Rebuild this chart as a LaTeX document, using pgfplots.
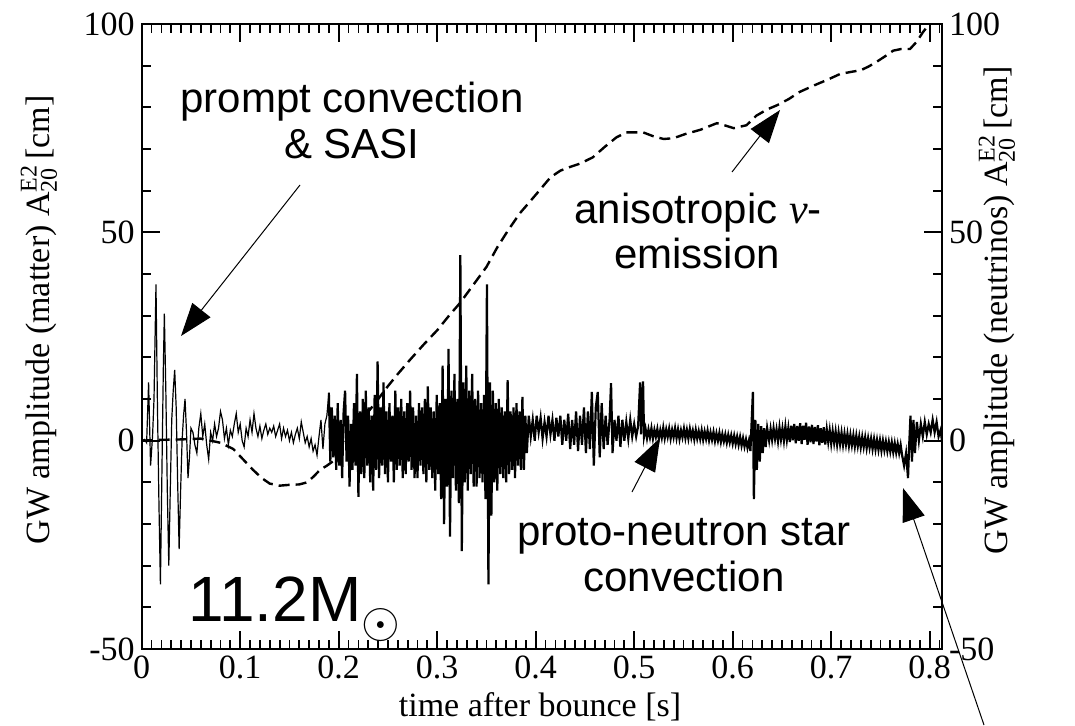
\documentclass[border=0pt]{standalone}
\usepackage{fontspec}
\setmainfont{Liberation Serif}
\newfontfamily\arialfont{Liberation Sans}
\usepackage{pgfplots}
\pgfplotsset{compat=1.18}
\usetikzlibrary{arrows.meta}
\newcommand{\Atwo}{A\rlap{\raisebox{0.8ex}{\fontsize{12}{12}\selectfont E2}}\raisebox{-0.5ex}{\fontsize{12}{12}\selectfont 20}}
\begin{document}
\begin{tikzpicture}
\useasboundingbox (0,0) rectangle (537.5pt,362.5pt);
\begin{axis}[
  at={(70.85pt,38pt)}, anchor=south west,
  width=400.15pt, height=312.5pt, scale only axis,
  xmin=0, xmax=0.8125, ymin=-50, ymax=100,
  xtick={0,0.1,0.2,0.3,0.4,0.5,0.6,0.7,0.8},
  ytick={-50,0,50,100},
  extra x ticks={0.01,0.02,0.03,0.04,0.05,0.06,0.07,0.08,0.09,0.11,0.12,0.13,0.14,0.15,0.16,0.17,0.18,0.19,0.21,0.22,0.23,0.24,0.25,0.26,0.27,0.28,0.29,0.31,0.32,0.33,0.34,0.35,0.36,0.37,0.38,0.39,0.41,0.42,0.43,0.44,0.45,0.46,0.47,0.48,0.49,0.51,0.52,0.53,0.54,0.55,0.56,0.57,0.58,0.59,0.61,0.62,0.63,0.64,0.65,0.66,0.67,0.68,0.69,0.71,0.72,0.73,0.74,0.75,0.76,0.77,0.78,0.79,0.81},
  extra x tick labels={},
  extra x tick style={major tick length=4.5pt},
  extra y ticks={-40,-30,-20,-10,10,20,30,40,60,70,80,90},
  extra y tick labels={},
  extra y tick style={major tick length=4.5pt},
  tick align=inside,
  major tick length=9pt,
  axis line style={line width=0.9pt},
  tick style={line width=0.9pt, black},
  tick label style={font=\fontsize{17}{17}\selectfont},
  /pgf/number format/assume math mode=true,
  /pgf/number format/fixed,
]
% matter signal, early part
\addplot[black, line width=0.6pt] coordinates {
(0,0) (0.003,0.3) (0.005,-0.5) (0.007,14) (0.009,-6) (0.011,1) (0.0125,10) (0.0145,37.5) (0.016,8) (0.0175,-15) (0.019,-34.5) (0.0205,-8) (0.022,18) (0.023,30.5) (0.0245,12) (0.026,-12) (0.0275,-30) (0.029,-12) (0.0305,5) (0.032,12) (0.0335,17) (0.035,8) (0.0365,-10) (0.038,-26) (0.0395,-12) (0.041,0) (0.0425,6) (0.044,10) (0.0455,2) (0.047,-9) (0.0485,-4) (0.05,3)
(0.052,2) (0.054,-1) (0.056,-3) (0.058,3) (0.060,6.5) (0.062,1) (0.064,4) (0.066,-1) (0.068,-4.5) (0.070,2) (0.072,0) (0.074,4) (0.076,1) (0.078,3) (0.080,7) (0.082,5) (0.084,0.5) (0.086,3) (0.088,-1) (0.090,2.5) (0.092,1) (0.094,4) (0.096,6.5) (0.098,2) (0.100,4) (0.102,0) (0.104,-1.5) (0.106,3) (0.108,1) (0.110,5) (0.112,2) (0.114,6.5) (0.116,3) (0.118,1) (0.120,3.5) (0.122,0.5) (0.124,2.5) (0.126,4) (0.128,1.5) (0.130,3) (0.132,2) (0.134,3.5) (0.136,1) (0.138,2.5) (0.140,4) (0.142,0.5) (0.144,3) (0.146,1) (0.148,2.5) (0.150,0) (0.152,2) (0.154,-0.5) (0.156,1.5) (0.158,3) (0.160,0.5) (0.162,4.5) (0.164,2) (0.166,-0.5) (0.168,1) (0.170,-1.5) (0.172,0.5) (0.174,-2.5) (0.176,-1) (0.178,-3.5) (0.180,1) (0.182,5) (0.184,-2) (0.186,4) (0.188,6) (0.190,11.5)
};
% matter signal, dense part
\addplot[black, line width=1.1pt] coordinates {
(0.190,11.5) (0.1915,-5) (0.193,8) (0.1945,-4) (0.196,6) (0.1975,-7) (0.199,9) (0.2005,-6) (0.202,5) (0.2035,-9) (0.205,7) (0.2065,12) (0.208,-5) (0.2095,6) (0.211,-11) (0.2125,4) (0.214,-7) (0.2155,9) (0.217,-6) (0.2185,16) (0.220,-13.5) (0.2215,7) (0.223,-8) (0.2245,10) (0.226,-9) (0.2275,12) (0.229,-6) (0.2305,8) (0.232,-10) (0.2335,6) (0.235,-12) (0.2365,11) (0.238,-7) (0.2395,19) (0.241,-9) (0.2425,8) (0.244,-6) (0.2455,14) (0.247,-8) (0.2485,7) (0.250,-10) (0.2515,9) (0.253,-5) (0.2545,6) (0.256,-10) (0.2575,12) (0.259,-7) (0.2605,8) (0.262,-6) (0.2635,10) (0.265,-9) (0.2665,7) (0.268,-8) (0.2695,9) (0.271,-5) (0.2725,12) (0.274,-7) (0.2755,8) (0.277,-9) (0.2785,6) (0.280,-9) (0.2815,9) (0.283,-6) (0.2845,8) (0.286,-8) (0.2875,10) (0.289,-10) (0.2905,13) (0.292,-7) (0.2935,8) (0.295,-9) (0.2965,7) (0.298,-12) (0.2995,11) (0.301,-8) (0.3025,9) (0.304,-14) (0.3055,18) (0.307,-20) (0.3085,10) (0.310,-11) (0.3115,22) (0.313,-23) (0.3145,12) (0.316,-9) (0.3175,16) (0.319,-12) (0.3205,10) (0.322,-15) (0.3235,44.5) (0.325,-26.5) (0.3265,14) (0.328,-10) (0.3295,18) (0.331,-12) (0.3325,12) (0.334,-8) (0.3355,16) (0.337,-11) (0.3385,10) (0.340,-11) (0.3415,12) (0.343,-9) (0.3445,9) (0.346,-10) (0.3475,11) (0.349,-14) (0.3505,37.5) (0.352,-34.5) (0.3535,14) (0.355,-18) (0.3565,12) (0.358,-10) (0.3595,9) (0.361,-12) (0.3625,10) (0.364,-8) (0.3655,8) (0.367,-9) (0.3685,7) (0.370,-10) (0.3715,14.5) (0.373,-8) (0.3745,7) (0.376,-7) (0.3775,8) (0.379,-9) (0.3805,9) (0.382,-6) (0.3835,7) (0.385,-7) (0.3865,10.5) (0.388,-7) (0.3895,6) (0.391,-3)
(0.393,6) (0.395,1) (0.397,5) (0.399,0) (0.401,6) (0.403,2) (0.405,5.5) (0.407,0.5) (0.409,4.5) (0.411,1) (0.413,6) (0.415,1.5) (0.417,5) (0.419,0) (0.421,5.5) (0.423,1) (0.425,6) (0.427,-1) (0.429,5) (0.431,0) (0.433,6.5) (0.435,-2) (0.437,5) (0.439,-1) (0.441,7) (0.443,-2.5) (0.445,6) (0.447,-1) (0.449,8) (0.451,-3) (0.453,7) (0.455,-2) (0.457,11.7) (0.459,-6) (0.461,8) (0.463,11.7) (0.465,-4) (0.467,9) (0.469,-2) (0.471,6) (0.473,-1) (0.475,5) (0.4765,13.8) (0.478,-3) (0.480,5) (0.482,0) (0.484,6) (0.486,-1.5) (0.488,5) (0.490,0) (0.492,4.5) (0.494,0.5) (0.496,5) (0.498,1) (0.500,4) (0.502,1) (0.504,3.5) (0.506,14) (0.507,1.5) (0.509,14.2) (0.510,1)
(0.5115,2.9) (0.513,0.6) (0.5145,2.7) (0.516,0.8) (0.5175,3.0) (0.519,0.5) (0.5205,2.6) (0.522,0.9) (0.5235,2.8) (0.525,0.4) (0.5265,2.5) (0.528,0.7) (0.5295,3.1) (0.531,0.6) (0.5325,2.7) (0.534,0.9) (0.5355,2.9) (0.537,0.5) (0.5385,2.6) (0.540,0.8) (0.5415,3.0) (0.543,0.6) (0.5445,2.7) (0.546,0.4) (0.5475,2.5) (0.549,0.8) (0.5505,2.9) (0.552,0.6) (0.5535,2.6) (0.555,0.5) (0.5565,2.8) (0.558,0.7) (0.5595,2.4) (0.561,0.3) (0.5625,2.6) (0.564,0.5) (0.5655,2.3) (0.567,0.4) (0.5685,2.5) (0.570,0.2) (0.5715,2.2) (0.573,0.4) (0.5745,2.4) (0.576,0.1) (0.5775,2.0) (0.579,0.2) (0.5805,2.1) (0.582,-0.1) (0.5835,1.8) (0.585,0.0) (0.5865,1.9) (0.588,-0.3) (0.5895,1.6) (0.591,-0.2) (0.5925,1.5) (0.594,-0.5) (0.5955,1.4) (0.597,-0.4) (0.5985,1.3) (0.600,-0.7) (0.6015,1.2) (0.603,-0.8) (0.6045,1.0) (0.606,-1.0) (0.6075,0.9) (0.609,-1.2) (0.6105,0.6) (0.612,-1.4) (0.6135,0.3) (0.615,-1.7) (0.6165,0) (0.618,-2.5)
(0.6205,11.7) (0.6215,-14) (0.623,5) (0.6245,-7) (0.626,4) (0.6275,-5) (0.629,3.5) (0.6305,-3) (0.632,3) (0.6335,-1.5) (0.635,3) (0.637,0)
(0.6385,2.8) (0.640,0.2) (0.6415,3.0) (0.643,0.4) (0.6445,2.7) (0.646,-0.1) (0.6475,3.2) (0.649,0.3) (0.6505,2.9) (0.652,0.0) (0.6535,3.4) (0.655,0.2) (0.6565,3.0) (0.658,-0.3) (0.6595,3.6) (0.661,0.1) (0.6625,4.0) (0.664,-0.6) (0.6655,3.5) (0.667,0.0) (0.6685,4.2) (0.670,-0.8) (0.6715,3.6) (0.673,0.2) (0.6745,4.3) (0.676,-1.0) (0.6775,3.4) (0.679,-0.4) (0.6805,3.8) (0.682,-0.8) (0.6835,3.3) (0.685,-0.2) (0.6865,3.7) (0.688,-1.1) (0.6895,3.0) (0.691,-0.5) (0.6925,3.2) (0.694,-0.9) (0.6955,2.7) (0.697,-0.3) (0.6985,2.5) (0.700,-0.7) (0.7015,2.3) (0.703,-0.5) (0.7045,2.2) (0.706,-0.9) (0.7075,2.0) (0.709,-0.8) (0.7105,1.9) (0.712,-1.0) (0.7135,1.7) (0.715,-0.9) (0.7165,1.6) (0.718,-1.2) (0.7195,1.4) (0.721,-1.1) (0.7225,1.3) (0.724,-1.4) (0.7255,1.2) (0.727,-1.3) (0.7285,1.0) (0.730,-1.6) (0.7315,0.9) (0.733,-1.5) (0.7345,0.8) (0.736,-1.8) (0.7375,0.6) (0.739,-1.7) (0.7405,0.5) (0.742,-2.0) (0.7435,0.4) (0.745,-2.1) (0.7465,0.2) (0.748,-2.2) (0.7495,0.1) (0.751,-2.4) (0.7525,0.0) (0.754,-2.3) (0.7555,-0.2) (0.757,-2.5) (0.7585,-0.3) (0.760,-2.6) (0.7615,-0.4) (0.763,-2.8) (0.7645,-0.6) (0.766,-2.9) (0.7675,-0.8) (0.769,-3.0) (0.7705,-1.0) (0.772,-3.5)
(0.774,-6) (0.776,-3) (0.778,-9) (0.779,-2) (0.7805,6) (0.782,-5) (0.7835,5) (0.785,-3) (0.787,4.5) (0.789,0) (0.791,4) (0.793,1) (0.795,4.5) (0.797,1.5) (0.799,4) (0.801,2) (0.803,5) (0.805,2) (0.807,4.5) (0.809,1) (0.811,2.5) (0.8125,0)
};
% neutrino signal
\addplot[black, line width=1.2pt, dash pattern=on 5.5pt off 3pt] coordinates {
(0,0) (0.02,0.2) (0.04,0.3) (0.06,0.5) (0.08,-0.5) (0.093,-2) (0.103,-4.5) (0.113,-7) (0.122,-9) (0.13,-10.3) (0.14,-10.8) (0.15,-10.6) (0.16,-10.5) (0.168,-10) (0.175,-8.5) (0.181,-7) (0.188,-6) (0.195,-4.8) (0.205,-1) (0.215,2.5) (0.225,5.5) (0.237,9) (0.249,12.8) (0.26,16) (0.272,19.3) (0.286,23) (0.300,26.5) (0.312,30) (0.323,33) (0.337,37.5) (0.350,41.7) (0.361,46.4) (0.372,50.5) (0.384,54.6) (0.400,59) (0.415,63.2) (0.425,64.8) (0.435,65.7) (0.445,66.5) (0.458,68) (0.470,70.5) (0.482,72.8) (0.492,74) (0.509,74) (0.520,73) (0.530,72.4) (0.540,72.6) (0.552,73.6) (0.567,74.6) (0.584,76.2) (0.593,75.6) (0.601,75) (0.614,75.7) (0.624,78) (0.635,79.5) (0.645,80.5) (0.657,82) (0.668,83.7) (0.682,85.2) (0.696,86.6) (0.709,88) (0.72,88.5) (0.73,88.9) (0.738,89.8) (0.746,90.9) (0.755,92.3) (0.763,93.6) (0.771,94) (0.78,94) (0.787,95.8) (0.793,98) (0.799,99.8)
};
\end{axis}
\begin{axis}[
  at={(70.85pt,38pt)}, anchor=south west,
  width=400.15pt, height=312.5pt, scale only axis,
  xmin=0, xmax=0.8125, ymin=-50, ymax=100,
  hide x axis, axis y line*=right,
  axis line style={draw=none},
  ytick={-50,0,50,100}, ytick style={draw=none},
  tick label style={font=\fontsize{17}{17}\selectfont},
  /pgf/number format/assume math mode=true,
]
\addplot[draw=none] coordinates {(0,0)};
\end{axis}
\begin{scope}[shift={(0,362.5pt)}, x=0.5pt, y=-0.5pt]
\node[font=\fontsize{17}{17}\selectfont, anchor=base, inner sep=0] at (540,716) {time after bounce [s]};
\node[font=\fontsize{17}{17}\selectfont, rotate=90, inner sep=0] at (39,320) {GW amplitude (matter) \Atwo\ [cm]};
\node[font=\fontsize{17}{17}\selectfont, rotate=90, inner sep=0] at (997,310) {GW amplitude (neutrinos) \Atwo\ [cm]};
\begin{scope}[font=\arialfont\fontsize{21}{21}\selectfont]
\node[anchor=base, inner sep=0] at (352,112) {prompt convection};
\node[anchor=base, inner sep=0] at (352,158) {\& SASI};
\node[anchor=base, inner sep=0] at (698,223) {anisotropic {\rmfamily\itshape ν}-};
\node[anchor=base, inner sep=0] at (697,268) {emission};
\node[anchor=base, inner sep=0] at (684,545) {proto-neutron star};
\node[anchor=base, inner sep=0] at (684,591) {convection};
\end{scope}
\node[font=\arialfont\fontsize{32}{32}\selectfont, anchor=base west, inner sep=0] at (188,621) {11.2M\raisebox{-8pt}{\fontsize{27.5}{27.5}\selectfont$\odot$}};
\begin{scope}[line width=0.5pt, -{Triangle[length=16.5pt,width=11.5pt]}]
\draw (300,185) -- (181,336);
\draw (732,172) -- (780,110);
\draw (632,492) -- (660,438);
\draw (984,725) -- (903,488);
\end{scope}
\end{scope}
\end{tikzpicture}
\end{document}
